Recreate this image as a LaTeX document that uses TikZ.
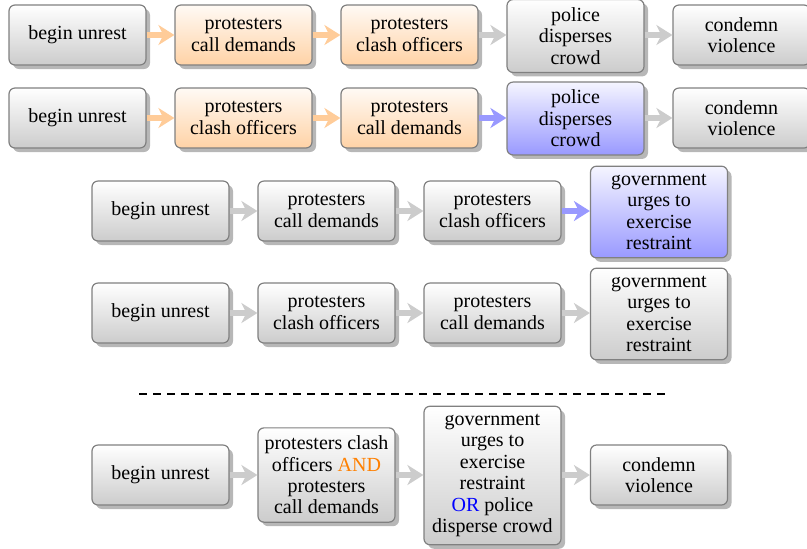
\documentclass[tikz,border=0pt]{standalone}
\usepackage{fontspec}
\setmainfont{Liberation Serif}
\usetikzlibrary{shadows,arrows.meta}
\def\nl{\\[-1.3pt]}
\tikzset{
 evbox/.style={draw=black!50, line width=0.6pt, rounded corners=3pt, minimum width=68.5pt, minimum height=30pt, align=center, inner xsep=2pt, inner ysep=4pt, top color=white, bottom color=black!20, drop shadow={shadow xshift=2pt, shadow yshift=-2pt, fill=black!40, opacity=0.7}},
 orbox/.style={evbox, top color=orange!4, bottom color=orange!35},
 blbox/.style={evbox, top color=blue!4, bottom color=blue!40},
 arr/.style={line width=3pt, -{Stealth[length=8pt,width=10pt,inset=2.5pt]}},
 garr/.style={arr, draw=black!20},
 oarr/.style={arr, draw=orange!40},
 barr/.style={arr, draw=blue!40},
}
\begin{document}
\begin{tikzpicture}[x=0.5pt,y=-0.5pt]
\useasboundingbox (0,0) rectangle (807,548);
% row 1
\node[evbox] (a1) at (77.5,35) {begin unrest};
\node[orbox] (b1) at (243.5,35) {protesters\nl call demands};
\node[orbox] (c1) at (409.5,35) {protesters\nl clash officers};
\node[evbox] (d1) at (575.5,36) {police\nl disperses\nl crowd};
\node[evbox] (e1) at (741.5,35) {condemn\nl violence};
\draw[oarr] (a1) -- (b1);
\draw[oarr] (b1) -- (c1);
\draw[garr] (c1) -- (c1 -| d1.west);
\draw[garr] (d1.east |- e1) -- (e1);
% row 2
\node[evbox] (a2) at (77.5,118) {begin unrest};
\node[orbox] (b2) at (243.5,118) {protesters\nl clash officers};
\node[orbox] (c2) at (409.5,118) {protesters\nl call demands};
\node[blbox] (d2) at (575.5,118.5) {police\nl disperses\nl crowd};
\node[evbox] (e2) at (741.5,118) {condemn\nl violence};
\draw[oarr] (a2) -- (b2);
\draw[oarr] (b2) -- (c2);
\draw[barr] (c2) -- (c2 -| d2.west);
\draw[garr] (d2.east |- e2) -- (e2);
% row 3
\node[evbox] (a3) at (160.5,211) {begin unrest};
\node[evbox] (b3) at (326.5,211) {protesters\nl call demands};
\node[evbox] (c3) at (492.5,211) {protesters\nl clash officers};
\node[blbox] (d3) at (659,212) {government\nl urges to\nl exercise\nl restraint};
\draw[garr] (a3) -- (b3);
\draw[garr] (b3) -- (c3);
\draw[barr] (c3) -- (c3 -| d3.west);
% row 4
\node[evbox] (a4) at (160.5,313) {begin unrest};
\node[evbox] (b4) at (326.5,313) {protesters\nl clash officers};
\node[evbox] (c4) at (492.5,313) {protesters\nl call demands};
\node[evbox] (d4) at (659,314) {government\nl urges to\nl exercise\nl restraint};
\draw[garr] (a4) -- (b4);
\draw[garr] (b4) -- (c4);
\draw[garr] (c4) -- (c4 -| d4.west);
% separator
\coordinate (s1) at (139,394);
\coordinate (s2) at (667,394);
\draw[dashed, line width=0.8pt, dash pattern=on 4pt off 3pt] (s1) -- (s2);
% row 5
\node[evbox] (a5) at (160.5,475) {begin unrest};
\node[evbox] (b5) at (326.5,475) {protesters clash\nl officers \textcolor{orange}{AND}\nl protesters\nl call demands};
\node[evbox] (c5) at (492.5,475.5) {government\nl urges to\nl exercise\nl restraint\nl \textcolor{blue}{OR} police\nl disperse crowd};
\node[evbox] (d5) at (659,475) {condemn\nl violence};
\draw[garr] (a5) -- (a5 -| b5.west);
\draw[garr] (b5) -- (b5 -| c5.west);
\draw[garr] (c5.east |- d5) -- (d5);
\end{tikzpicture}
\end{document}
